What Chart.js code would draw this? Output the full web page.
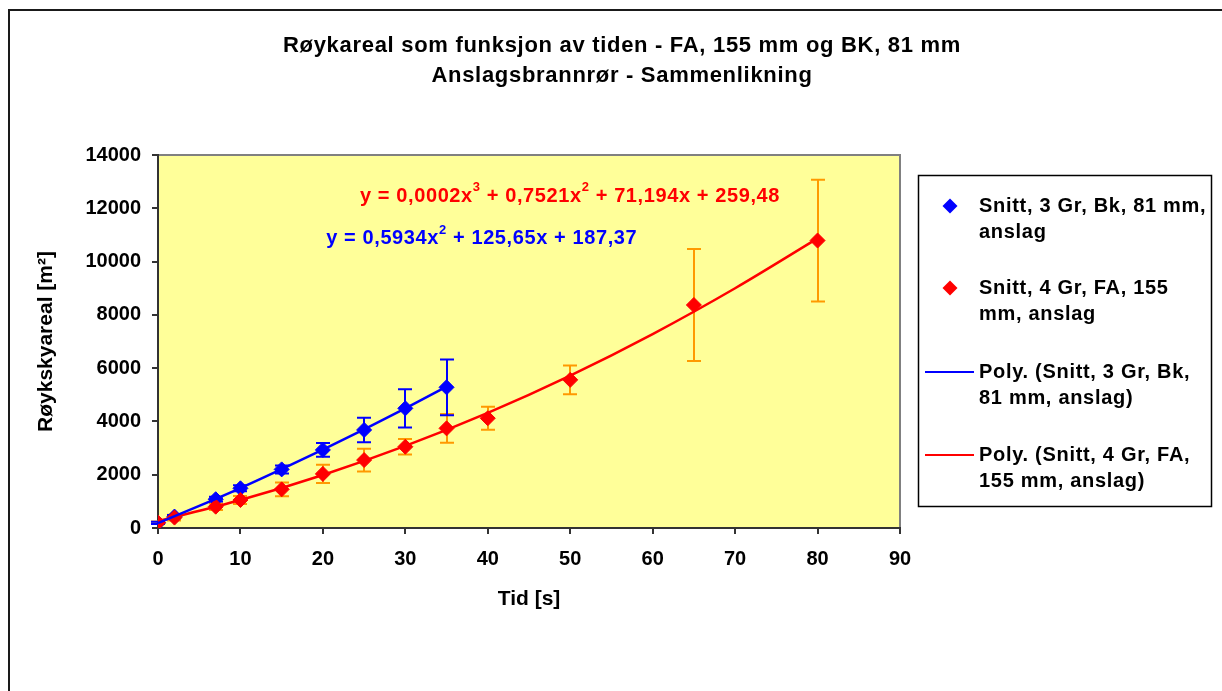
<!DOCTYPE html>
<html>
<head>
<meta charset="utf-8">
<script src="https://cdn.jsdelivr.net/npm/chart.js@4.4.0/dist/chart.umd.min.js"></script>
<style>
  body { margin: 0; background: #fff; }
  canvas { display: block; }
</style>
</head>
<body>
<canvas id="roykChart" width="1222" height="691"></canvas>
<script>
// Tekster
const titleLines = ['Røykareal som funksjon av tiden - FA, 155 mm og BK, 81 mm', 'Anslagsbrannrør - Sammenlikning'];
const xTitle = 'Tid [s]';
const yTitle = 'Røykskyareal [m²]';
const xTicks = [0, 10, 20, 30, 40, 50, 60, 70, 80, 90];
const yTicks = [0, 2000, 4000, 6000, 8000, 10000, 12000, 14000];

// Snitt, 3 Gr, Bk, 81 mm (blå)
const blueTime = [0, 2, 7, 10, 15, 20, 25, 30, 35];
const blueArea = [190, 430, 1080, 1490, 2200, 2930, 3680, 4490, 5280];
const blueErr  = [40, 60, 90, 110, 150, 260, 460, 720, 1045];

// Snitt, 4 Gr, FA, 155 mm (rød)
const redTime = [0, 2, 7, 10, 15, 20, 25, 30, 35, 40, 50, 65, 80];
const redArea = [200, 390, 800, 1050, 1450, 2030, 2550, 3050, 3740, 4120, 5560, 8370, 10790];
const redErr  = [40, 110, 120, 150, 260, 345, 425, 290, 540, 430, 540, 2100, 2285];

// Trendlinjer
const blueTrendTime = [0, 5, 10, 15, 20, 25, 30, 35];
const blueTrendArea = [187, 830, 1500, 2210, 2940, 3700, 4490, 5310];
const redTrendTime = [0, 10, 20, 30, 40, 50, 60, 70, 80];
const redTrendArea = [260, 1050, 1990, 3080, 4320, 5720, 7280, 9000, 10870];

// Ligninger (tekst, hevet skrift)
const redEquation = [['y = 0,0002x', false], ['3', true], [' + 0,7521x', false], ['2', true], [' + 71,194x + 259,48', false]];
const blueEquation = [['y = 0,5934x', false], ['2', true], [' + 125,65x + 187,37', false]];

const legendLabels = [
    ['Snitt, 3 Gr, Bk, 81 mm,', 'anslag'],
    ['Snitt, 4 Gr, FA, 155', 'mm, anslag'],
    ['Poly. (Snitt, 3 Gr, Bk,', '81 mm, anslag)'],
    ['Poly. (Snitt, 4 Gr, FA,', '155 mm, anslag)']
];

const FONT = '"Liberation Sans", Arial, sans-serif';
const BLUE = '#0000FF';
const RED = '#FF0000';
const ORANGE = '#FF9900';

function zip(xs, ys) {
    return xs.map((x, i) => ({ x: x, y: ys[i] }));
}

function drawErrorBars(ctx, xs, ys, errs, color, xScale, yScale) {
    ctx.strokeStyle = color;
    ctx.lineWidth = 2;
    xs.forEach((t, i) => {
        const px = Math.round(xScale.getPixelForValue(t));
        const top = yScale.getPixelForValue(ys[i] + errs[i]);
        const bot = yScale.getPixelForValue(ys[i] - errs[i]);
        ctx.beginPath();
        ctx.moveTo(px, top); ctx.lineTo(px, bot);
        ctx.moveTo(px - 7, top); ctx.lineTo(px + 7, top);
        ctx.moveTo(px - 7, bot); ctx.lineTo(px + 7, bot);
        ctx.stroke();
    });
}

function drawEquation(ctx, parts, x, y, color) {
    let cx = x;
    ctx.fillStyle = color;
    ctx.textBaseline = 'middle';
    ctx.textAlign = 'left';
    parts.forEach(([txt, sup]) => {
        ctx.font = sup ? `bold 13px ${FONT}` : `bold 20px ${FONT}`;
        ctx.fillText(txt, cx, sup ? y - 9 : y);
        cx += ctx.measureText(txt).width;
    });
}

function diamond(ctx, x, y, r, color) {
    ctx.fillStyle = color;
    ctx.beginPath();
    ctx.moveTo(x - r, y); ctx.lineTo(x, y - r); ctx.lineTo(x + r, y); ctx.lineTo(x, y + r);
    ctx.closePath();
    ctx.fill();
}

const chartDecor = {
    id: 'chartDecor',
    beforeDraw(chart) {
        const { ctx, chartArea: a } = chart;
        ctx.save();
        ctx.fillStyle = '#fff';
        ctx.fillRect(0, 0, chart.width, chart.height);
        // ytre ramme
        ctx.strokeStyle = '#1a1a1a';
        ctx.lineWidth = 2;
        ctx.beginPath();
        ctx.moveTo(9, chart.height + 5); ctx.lineTo(9, 10); ctx.lineTo(chart.width + 5, 10);
        ctx.stroke();
        // plottområde
        ctx.fillStyle = '#FFFF99';
        ctx.fillRect(a.left, a.top, a.right - a.left, a.bottom - a.top);
        ctx.strokeStyle = '#808080';
        ctx.lineWidth = 2;
        ctx.beginPath();
        ctx.moveTo(a.left, a.top); ctx.lineTo(a.right, a.top); ctx.lineTo(a.right, a.bottom);
        ctx.stroke();
        ctx.restore();
    },
    beforeDatasetsDraw(chart) {
        const { ctx, scales } = chart;
        ctx.save();
        drawErrorBars(ctx, redTime, redArea, redErr, ORANGE, scales.x, scales.y);
        drawErrorBars(ctx, blueTime, blueArea, blueErr, BLUE, scales.x, scales.y);
        ctx.restore();
    },
    afterDatasetsDraw(chart) {
        const { ctx, scales } = chart;
        ctx.save();
        ctx.letterSpacing = '0.6px';
        drawEquation(ctx, redEquation, scales.x.getPixelForValue(24.5), scales.y.getPixelForValue(12460), RED);
        drawEquation(ctx, blueEquation, scales.x.getPixelForValue(20.4), scales.y.getPixelForValue(10850), BLUE);
        ctx.restore();
    },
    afterDraw(chart) {
        const { ctx } = chart;
        ctx.save();
        // tittel
        ctx.fillStyle = '#000';
        ctx.textAlign = 'center';
        ctx.textBaseline = 'middle';
        ctx.letterSpacing = '0.7px';
        ctx.font = `bold 22px ${FONT}`;
        ctx.fillText(titleLines[0], 622, 46);
        ctx.fillText(titleLines[1], 622, 76);

        // tegnforklaring
        ctx.strokeStyle = '#000';
        ctx.lineWidth = 1.5;
        ctx.strokeRect(918.5, 175.5, 293, 331);
        const rows = [206, 288, 372, 455];
        const colors = [BLUE, RED, BLUE, RED];
        ctx.textAlign = 'left';
        ctx.font = `bold 20px ${FONT}`;
        legendLabels.forEach((lines, i) => {
            const y = rows[i];
            if (i < 2) {
                diamond(ctx, 950, y, 7.5, colors[i]);
            } else {
                ctx.strokeStyle = colors[i];
                ctx.lineWidth = 2;
                ctx.beginPath();
                ctx.moveTo(925, y); ctx.lineTo(974, y);
                ctx.stroke();
            }
            ctx.fillStyle = '#000';
            lines.forEach((t, j) => ctx.fillText(t, 979, y + j * 26));
        });
        ctx.restore();
    }
};

new Chart(document.getElementById('roykChart'), {
    type: 'scatter',
    data: {
        datasets: [
            {
                label: legendLabels[2].join(' '),
                data: zip(blueTrendTime, blueTrendArea),
                showLine: true,
                borderColor: BLUE,
                borderWidth: 2.5,
                pointRadius: 0,
                cubicInterpolationMode: 'monotone',
                order: 0
            },
            {
                label: legendLabels[3].join(' '),
                data: zip(redTrendTime, redTrendArea),
                showLine: true,
                borderColor: RED,
                borderWidth: 2.5,
                pointRadius: 0,
                cubicInterpolationMode: 'monotone',
                order: 1
            },
            {
                label: legendLabels[1].join(' '),
                data: zip(redTime, redArea),
                pointStyle: 'rectRot',
                pointRadius: 7.5,
                backgroundColor: RED,
                borderColor: RED,
                borderWidth: 1,
                order: 2
            },
            {
                label: legendLabels[0].join(' '),
                data: zip(blueTime, blueArea),
                pointStyle: 'rectRot',
                pointRadius: 7.5,
                backgroundColor: BLUE,
                borderColor: BLUE,
                borderWidth: 1,
                order: 3
            }
        ]
    },
    options: {
        responsive: false,
        animation: false,
        events: [],
        layout: { padding: { left: 8, top: 155, right: 322, bottom: 43 } },
        plugins: {
            legend: { display: false },
            title: { display: false },
            tooltip: { enabled: false }
        },
        scales: {
            x: {
                type: 'linear',
                min: xTicks[0],
                max: xTicks[xTicks.length - 1],
                afterFit: (s) => { s.height = 120; },
                afterBuildTicks: (s) => { s.ticks = xTicks.map(v => ({ value: v })); },
                border: { display: true, color: '#333', width: 2 },
                grid: { drawOnChartArea: false, drawTicks: true, tickLength: 6, color: '#333', lineWidth: 2 },
                ticks: { color: '#000', padding: 13, font: { family: FONT, size: 20, weight: 'bold' }, callback: (v) => String(v) },
                title: { display: true, text: xTitle, color: '#000', padding: { bottom: 36 }, font: { family: FONT, size: 21, weight: 'bold' } }
            },
            y: {
                type: 'linear',
                min: yTicks[0],
                max: yTicks[yTicks.length - 1],
                afterFit: (s) => { s.width = 150; },
                afterBuildTicks: (s) => { s.ticks = yTicks.map(v => ({ value: v })); },
                border: { display: true, color: '#333', width: 2 },
                grid: { drawOnChartArea: false, drawTicks: true, tickLength: 6, color: '#333', lineWidth: 2 },
                ticks: { color: '#000', padding: 11, font: { family: FONT, size: 20, weight: 'bold' }, callback: (v) => String(v) },
                title: { display: true, text: yTitle, color: '#000', padding: { top: 26 }, font: { family: FONT, size: 21, weight: 'bold' } }
            }
        }
    },
    plugins: [chartDecor]
});
</script>
</body>
</html>
